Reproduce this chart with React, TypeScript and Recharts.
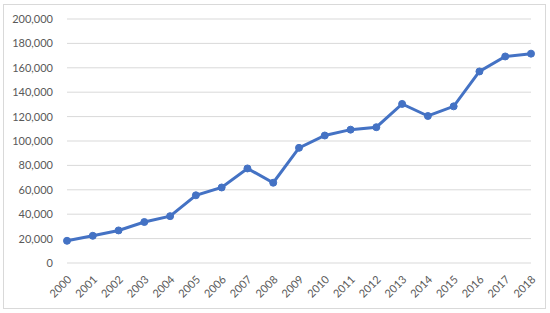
import React from 'react';
import { LineChart, Line, XAxis, YAxis, CartesianGrid } from 'recharts';

const years = ['2000', '2001', '2002', '2003', '2004', '2005', '2006', '2007', '2008', '2009', '2010', '2011', '2012', '2013', '2014', '2015', '2016', '2017', '2018'];
const values = [18200, 22300, 26700, 33600, 38400, 55500, 61900, 77500, 65800, 94400, 104500, 109300, 111300, 130400, 120500, 128400, 157000, 169300, 171600];
const yTicks = [0, 20000, 40000, 60000, 80000, 100000, 120000, 140000, 160000, 180000, 200000];

const data = years.map((year, i) => ({ year, value: values[i] }));

const FONT = 'Lato, "Open Sans", sans-serif';
const TEXT_COLOR = '#595959';

const formatNumber = (v: number) => v.toLocaleString('en-US');

// rotated year labels, like the spreadsheet's -45 degree axis
const YearTick = (props: any) => {
  const { x, y, payload } = props;
  const ax = x + 2;
  const ay = y + 14;
  return (
    <text
      x={ax}
      y={ay}
      transform={`rotate(-45, ${ax}, ${ay})`}
      textAnchor="end"
      dominantBaseline="central"
      fill={TEXT_COLOR}
      fontSize={11}
      fontFamily={FONT}
    >
      {payload.value}
    </text>
  );
};

const App: React.FC = () => {
  return (
    <div style={{ position: 'absolute', left: 0, top: 0, width: 550, height: 313, background: '#fff' }}>
      <div
        style={{
          position: 'absolute',
          left: 3,
          top: 4,
          width: 541,
          height: 303,
          border: '1px solid #d9d9d9',
        }}
      />
      <div style={{ position: 'absolute', left: 0, top: 0 }}>
        <LineChart width={550} height={313} data={data} margin={{ top: 19, right: 19, bottom: 5, left: 0 }}>
          <CartesianGrid vertical={false} stroke="#d9d9d9" strokeWidth={1} />
          <XAxis
            dataKey="year"
            axisLine={false}
            tickLine={false}
            tickSize={0}
            tickMargin={0}
            interval={0}
            height={45}
            tick={<YearTick />}
          />
          <YAxis
            width={67}
            domain={[0, 200000]}
            ticks={yTicks}
            axisLine={false}
            tickLine={false}
            tickSize={0}
            tickMargin={14}
            tickFormatter={formatNumber}
            tick={{ fill: TEXT_COLOR, fontSize: 11, fontFamily: FONT }}
          />
          <Line
            type="linear"
            dataKey="value"
            stroke="#4472C4"
            strokeWidth={3}
            dot={{ r: 3.5, fill: '#4472C4', stroke: '#4472C4', strokeWidth: 1 }}
            activeDot={false}
            isAnimationActive={false}
          />
        </LineChart>
      </div>
    </div>
  );
};

export default App;
